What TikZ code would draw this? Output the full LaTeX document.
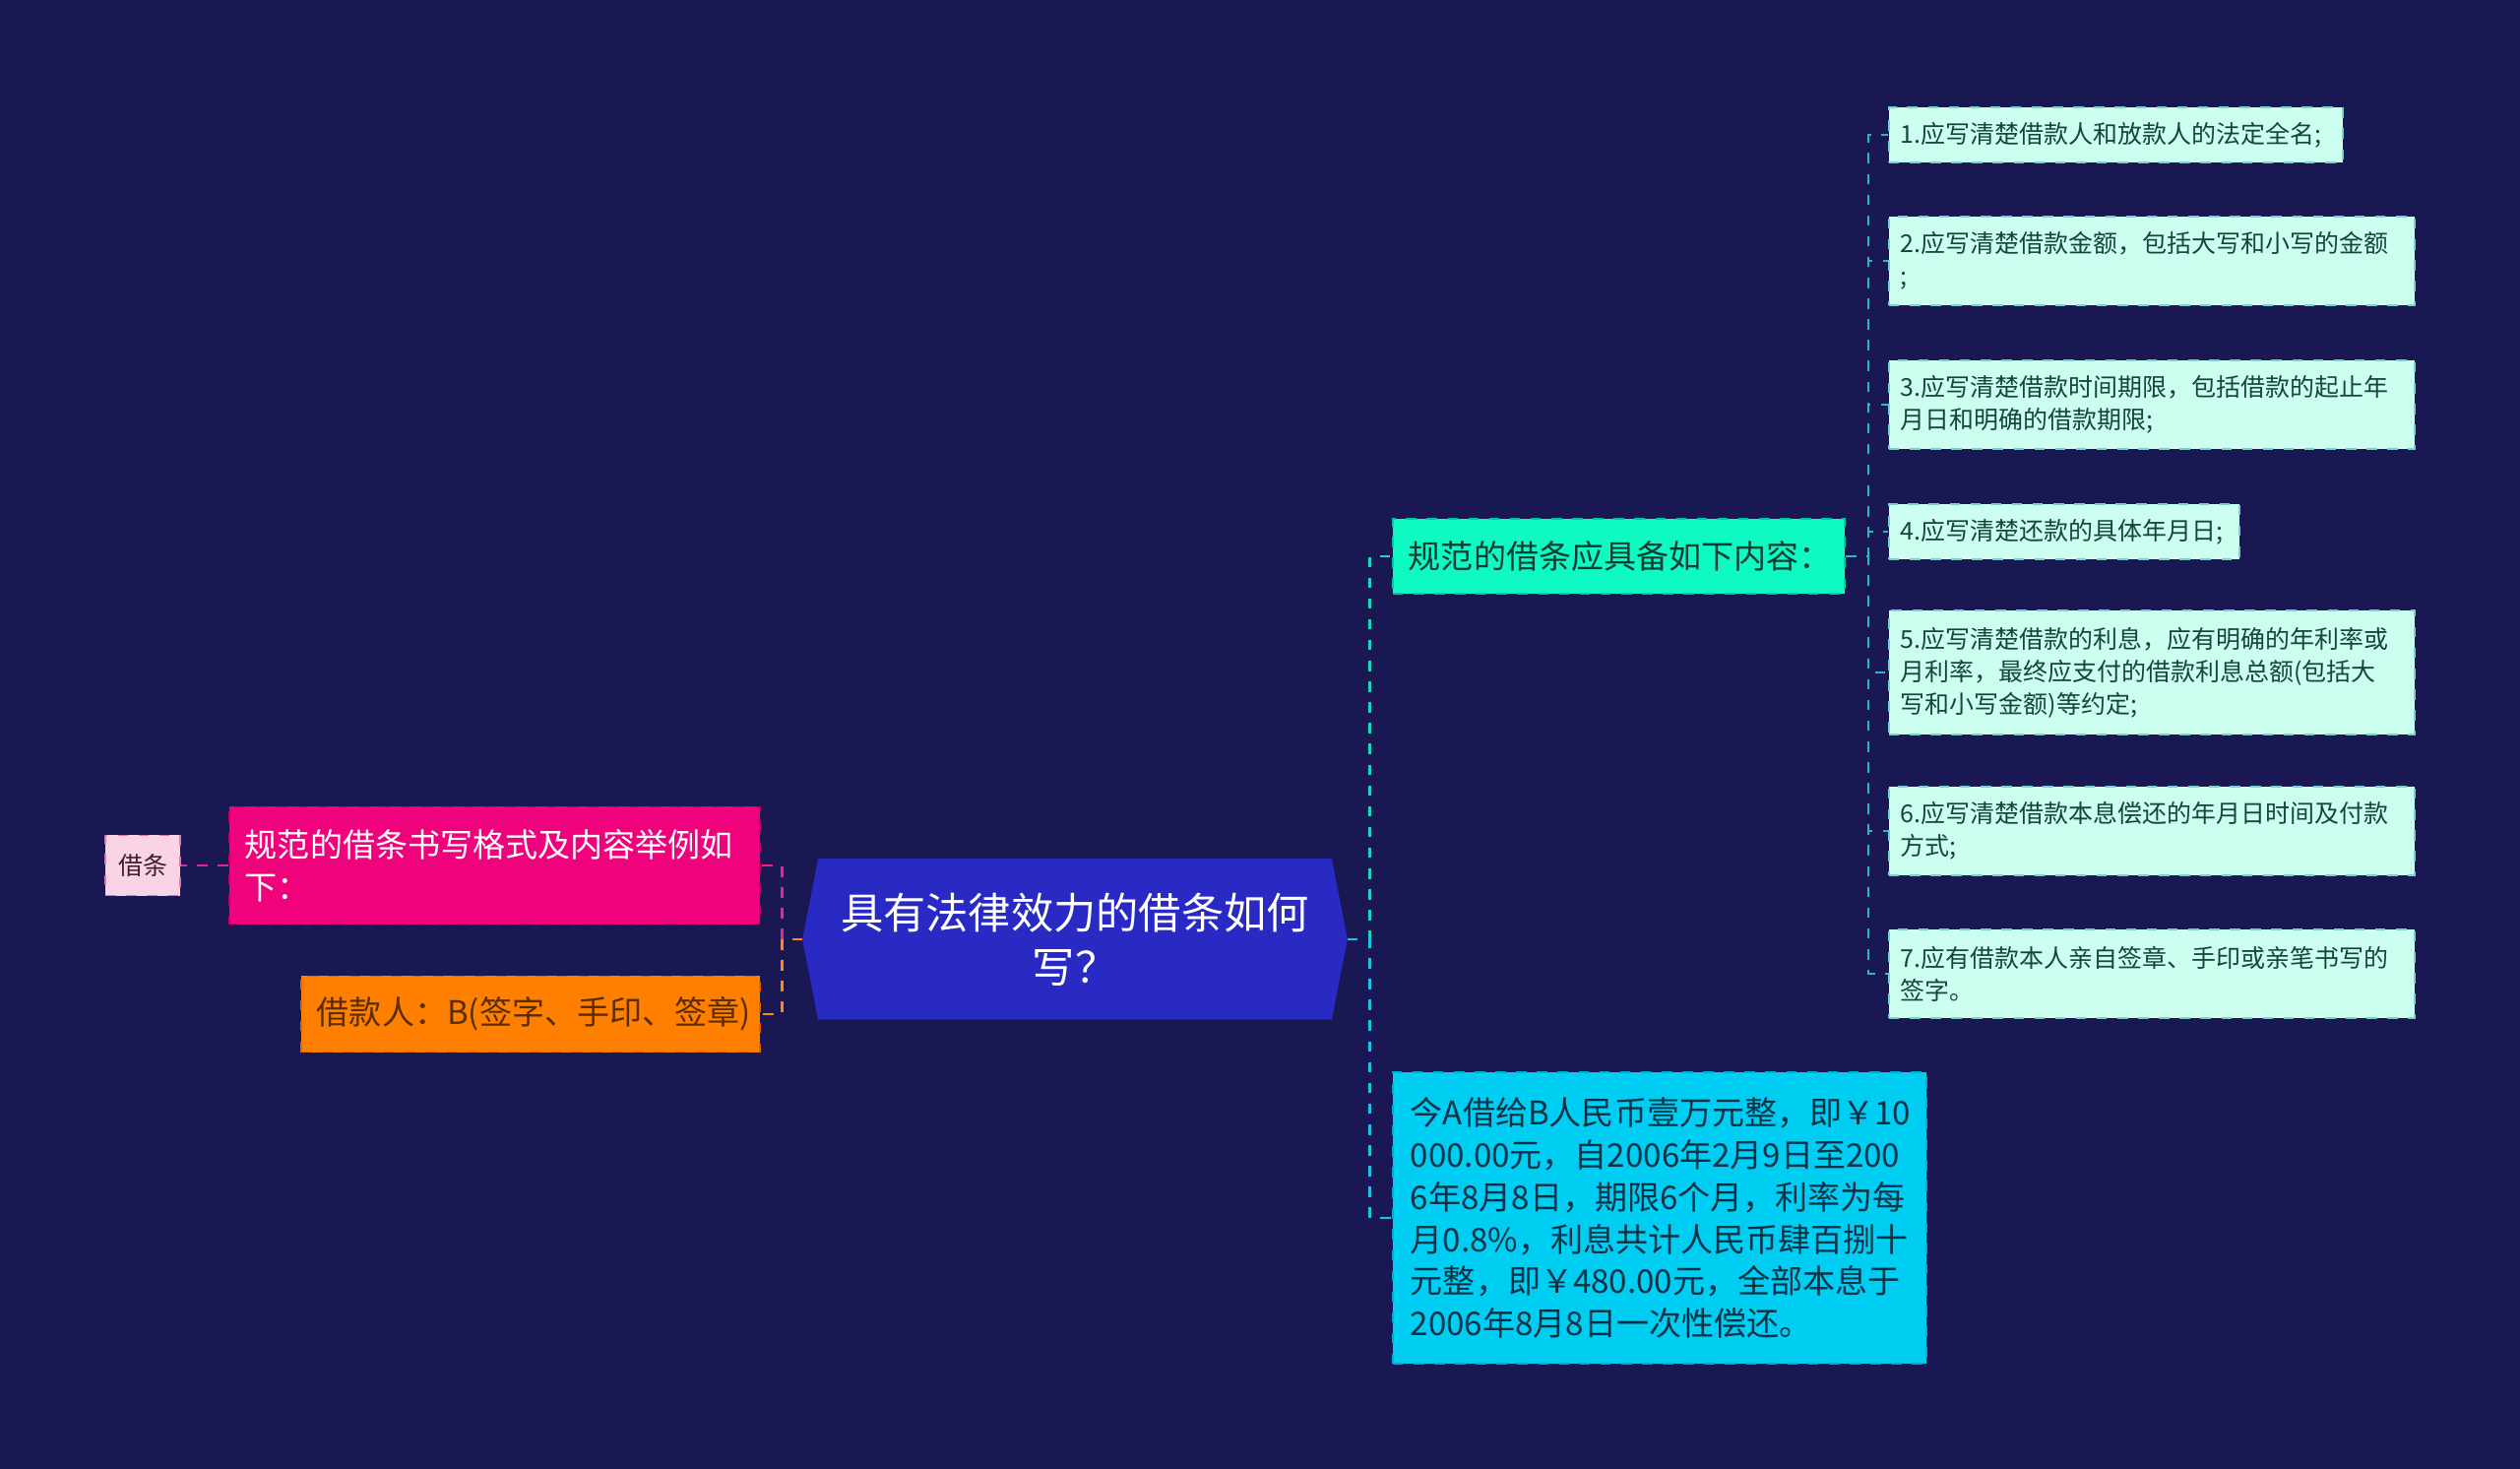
\documentclass[tikz,border=0pt]{standalone}
\usepackage{fontspec}
\setmainfont{Noto Sans CJK SC}
\usepackage{tikz}
\usetikzlibrary{positioning}
\usetikzlibrary{backgrounds}

\definecolor{bgnavy}{RGB}{26,24,82}
\definecolor{rootfill}{RGB}{41,41,196}
\definecolor{tagfill}{RGB}{250,212,230}
\definecolor{tagedge}{RGB}{220,120,170}
\definecolor{pinkfill}{RGB}{240,2,125}
\definecolor{pinkedge}{RGB}{200,0,100}
\definecolor{orangefill}{RGB}{255,127,0}
\definecolor{orangeedge}{RGB}{220,100,0}
\definecolor{greenfill}{RGB}{15,250,195}
\definecolor{greenedge}{RGB}{0,200,160}
\definecolor{cyanfill}{RGB}{0,205,242}
\definecolor{cyanedge}{RGB}{0,170,210}
\definecolor{leaffill}{RGB}{204,255,240}
\definecolor{leafedge}{RGB}{120,210,200}
\definecolor{leaftext}{RGB}{20,70,60}
\definecolor{pinklink}{RGB}{230,40,140}
\definecolor{orangelink}{RGB}{255,135,20}
\definecolor{greenlink}{RGB}{30,215,185}
\definecolor{cyanlink}{RGB}{30,195,235}
\definecolor{leaflink}{RGB}{40,185,200}

\begin{document}
\begin{tikzpicture}[x=0.01cm, y=-0.01cm,
    rootnode/.style={text=white, align=center, minimum width=5.52cm, minimum height=1.62cm, font=\fontsize{12.3}{15.7}\selectfont},
    topic/.style={anchor=west, draw, dashed, line width=0.5pt, inner xsep=0.16cm, inner ysep=0pt, align=left, font=\fontsize{9.4}{12.2}\selectfont},
    leaf/.style={anchor=west, draw=leafedge, dashed, line width=0.5pt, fill=leaffill, text=leaftext, inner xsep=0.12cm, inner ysep=0pt, align=left, font=\fontsize{7.1}{9.4}\selectfont},
    link/.style={dashed, line width=0.8pt}]

    \useasboundingbox (0,0) rectangle (2560,1492);

    \node [rootnode] (root) at (1092,954) {具有法律效力的借条如何\\写？};

    % left side
    \node [topic, draw=pinkedge, fill=pinkfill, text=white, text width=5.07cm, minimum height=1.19cm] (l1) at (232,879) {规范的借条书写格式及内容举例如\\下：};
    \node [topic, draw=orangeedge, fill=orangefill, text={rgb,255:red,90;green,45;blue,0}, text width=4.34cm, minimum height=0.77cm] (l2) at (305,1030) {借款人：B(签字、手印、签章)};
    \node [draw=tagedge, dashed, line width=0.5pt, fill=tagfill, text={rgb,255:red,60;green,30;blue,45}, minimum width=0.76cm, minimum height=0.61cm, inner sep=0pt, font=\fontsize{7.1}{9.4}\selectfont, left=0.48cm of l1] (tag) {借条};

    % right side
    \node [topic, draw=greenedge, fill=greenfill, text={rgb,255:red,10;green,60;blue,50}, text width=4.27cm, minimum height=0.76cm] (r1) at (1414,565) {规范的借条应具备如下内容：};
    \node [topic, draw=cyanedge, fill=cyanfill, text={rgb,255:red,10;green,50;blue,70}, inner xsep=0.18cm, text width=5.06cm, minimum height=2.96cm] (r2) at (1414,1237) {今A借给B人民币壹万元整，即￥10\\000.00元，自2006年2月9日至200\\6年8月8日，期限6个月，利率为每\\月0.8\%，利息共计人民币肆百捌十\\元整，即￥480.00元，全部本息于\\2006年8月8日一次性偿还。};

    \node [leaf, text width=4.37cm, minimum height=0.56cm] (s1) at (1918,137) {1.应写清楚借款人和放款人的法定全名;};
    \node [leaf, text width=5.10cm, minimum height=0.90cm] (s2) at (1918,265) {2.应写清楚借款金额，包括大写和小写的金额\\;};
    \node [leaf, text width=5.10cm, minimum height=0.90cm] (s3) at (1918,411) {3.应写清楚借款时间期限，包括借款的起止年\\月日和明确的借款期限;};
    \node [leaf, text width=3.32cm, minimum height=0.56cm] (s4) at (1918,540) {4.应写清楚还款的具体年月日;};
    \node [leaf, text width=5.10cm, minimum height=1.26cm] (s5) at (1918,683) {5.应写清楚借款的利息，应有明确的年利率或\\月利率，最终应支付的借款利息总额(包括大\\写和小写金额)等约定;};
    \node [leaf, text width=5.10cm, minimum height=0.90cm] (s6) at (1918,844) {6.应写清楚借款本息偿还的年月日时间及付款\\方式;};
    \node [leaf, text width=5.10cm, minimum height=0.90cm] (s7) at (1918,989) {7.应有借款本人亲自签章、手印或亲笔书写的\\签字。};

    \begin{scope}[on background layer]
      \fill [bgnavy] (0,0) rectangle (2560,1492);
      \fill [rootfill] (root.west) -- ([xshift=0.16cm]root.north west) -- ([xshift=-0.16cm]root.north east)
        -- (root.east) -- ([xshift=-0.16cm]root.south east) -- ([xshift=0.16cm]root.south west) -- cycle;
    \end{scope}

    \draw [link, pinklink] (root.west) -- ++(-21,0) |- (l1.east);
    \draw [link, orangelink] (root.west) -- ++(-21,0) |- (l2.east);
    \draw [link, pinklink] (l1.west) -- (tag.east);
    \draw [link, greenlink] (root.east) -- ++(23,0) |- (r1.west);
    \draw [link, cyanlink] (root.east) -- ++(23,0) |- (r2.west);
    \foreach \i in {1,...,7}
      \draw [link, leaflink] (r1.east) -- ++(23,0) |- (s\i.west);
\end{tikzpicture}
\end{document}
